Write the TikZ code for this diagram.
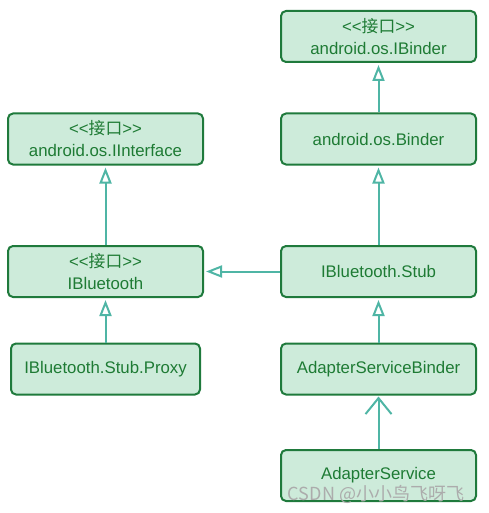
\documentclass[tikz,border=0pt]{standalone}
\usepackage{fontspec}
\setmainfont{Liberation Sans}
\newfontfamily\cjk{Noto Sans CJK SC}
\usetikzlibrary{arrows.meta}
\definecolor{boxfill}{HTML}{CDEBDA}
\definecolor{boxline}{HTML}{1F7A3C}
\definecolor{boxtext}{HTML}{1E7B34}
\definecolor{arrowline}{HTML}{4FB5A5}
\newcommand{\iface}{<{}<{\cjk 接口}>{}>}
\tikzset{
  cls/.style={draw=boxline, fill=boxfill, line width=2pt, rounded corners=5pt,
    minimum width=195pt, minimum height=51pt, inner sep=0pt, text=boxtext,
    align=center, font=\fontsize{16.8}{22}\selectfont},
  inherit/.style={draw=arrowline, line width=2pt, shorten >=2pt,
    -{Triangle[open, length=16pt, width=12pt]}},
  assoc/.style={draw=arrowline, line width=2pt, shorten >=1pt,
    -{Straight Barb[length=16pt, width=26pt]}},
}

\begin{document}
\begin{tikzpicture}[x=1pt,y=-1pt]
  \useasboundingbox (0,0) rectangle (488,513);
  % right column
  \node[cls] (ibinder) at (378.5,36.5) {\iface\\android.os.IBinder};
  \node[cls] (binder) at (378.5,139) {android.os.Binder};
  \node[cls] (stub) at (378.5,271.5) {IBluetooth.Stub};
  \node[cls] (asbinder) at (378.5,369) {AdapterServiceBinder};
  \node[cls] (aservice) at (378.5,475.5) {AdapterService};
  % left column
  \node[cls] (iinterface) at (105.5,139) {\iface\\android.os.IInterface};
  \node[cls] (ibluetooth) at (105.5,271.5) {\iface\\IBluetooth};
  \node[cls, minimum width=189pt] (proxy) at (105.5,369) {IBluetooth.Stub.Proxy};
  % relations
  \draw[inherit] (binder) -- (ibinder);
  \draw[inherit] (stub) -- (binder);
  \draw[inherit] (asbinder) -- (stub);
  \draw[inherit] (stub) -- (ibluetooth);
  \draw[inherit] (ibluetooth) -- (iinterface);
  \draw[inherit] (proxy) -- (ibluetooth);
  \draw[assoc] (aservice) -- (asbinder);
  \node[text=gray!65, font=\cjk\fontsize{18}{18}\selectfont] (mark) at (376,494) {CSDN @小小鸟飞呀飞};
\end{tikzpicture}
\end{document}
